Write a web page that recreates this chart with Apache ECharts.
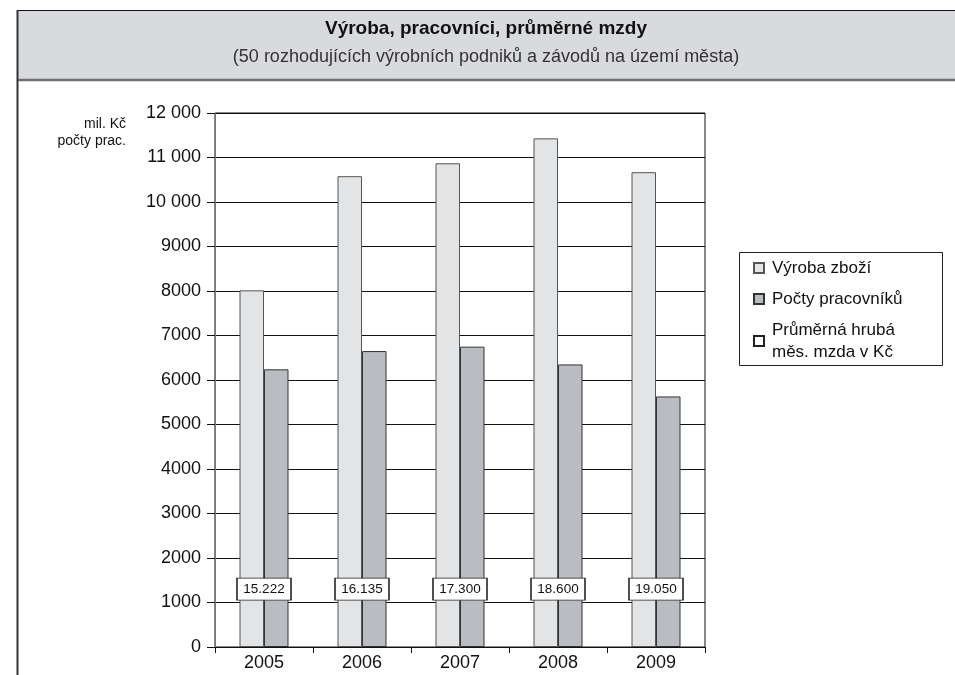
<!DOCTYPE html>
<html>
<head>
<meta charset="utf-8">
<script src="https://cdn.jsdelivr.net/npm/echarts@6/dist/echarts.min.js"></script>
<style>
html,body{margin:0;padding:0;background:#fff;}
#chart{width:955px;height:675px;}
</style>
</head>
<body>
<div id="chart"></div>
<script>
// ---- data ----
const categories = ['2005', '2006', '2007', '2008', '2009'];
const vyrobaZbozi = [8015, 10580, 10870, 11430, 10670];
const poctyPracovniku = [6240, 6650, 6750, 6350, 5630];
const prumernaMzda = [15222, 16135, 17300, 18600, 19050];
const seriesNames = ['Výroba zboží', 'Počty pracovníků', 'Průměrná hrubá\nměs. mzda v Kč'];
const yMin = 0, yMax = 12000, yStep = 1000;
const titleText = 'Výroba, pracovníci, průměrné mzdy';
const subtitleText = '(50 rozhodujících výrobních podniků a závodů na území města)';
const unitText = 'mil. Kč\npočty prac.';
// level (axis units) at which the wage boxes sit
const wageLevel = 1300;

const FONT = '"Liberation Sans", Arial, Helvetica, sans-serif';

function fmtSpace(v) {
  return v >= 10000 ? String(v).replace(/\B(?=(\d{3})+(?!\d))/g, ' ') : String(v);
}
function fmtDot(v) {
  return String(v).replace(/\B(?=(\d{3})+(?!\d))/g, '.');
}

const chart = echarts.init(document.getElementById('chart'), null, {renderer: 'canvas'});

const option = {
  backgroundColor: '#fff',
  animation: false,
  textStyle: {fontFamily: FONT},
  graphic: [
    {type: 'rect', shape: {x: 17, y: 10.5, width: 940, height: 69}, style: {fill: '#d9dadd', stroke: null}, z: 0},
    {type: 'line', shape: {x1: 17, y1: 10.5, x2: 955, y2: 10.5}, style: {stroke: '#111', lineWidth: 1}, z: 1},
    {type: 'line', shape: {x1: 17, y1: 80, x2: 955, y2: 80}, style: {stroke: '#6f6f6f', lineWidth: 2.5}, z: 1},
    {type: 'line', shape: {x1: 17.5, y1: 10, x2: 17.5, y2: 675}, style: {stroke: '#333', lineWidth: 2}, z: 1},
    {type: 'text', x: 486, y: 29, style: {text: titleText, fill: '#111', font: 'bold 19px ' + FONT, textAlign: 'center', textVerticalAlign: 'middle'}, z: 2},
    {type: 'text', x: 486, y: 57.5, style: {text: subtitleText, fill: '#333', font: '18px ' + FONT, textAlign: 'center', textVerticalAlign: 'middle'}, z: 2},
    {type: 'text', x: 126, y: 133, style: {text: unitText, fill: '#111', font: '14px ' + FONT, textAlign: 'right', textVerticalAlign: 'middle', lineHeight: 17}, z: 2},
    {type: 'rect', shape: {x: 739.5, y: 252.5, width: 203, height: 113}, style: {fill: null, stroke: '#222', lineWidth: 1}, z: 2}
  ],
  legend: {
    orient: 'vertical',
    left: 753,
    top: 257,
    padding: 0,
    itemWidth: 10,
    itemHeight: 10,
    itemGap: 9,
    textStyle: {fontFamily: FONT, fontSize: 17, color: '#111', lineHeight: 22, padding: [0, 0, 0, 3]},
    data: [
      {name: seriesNames[0], icon: 'rect'},
      {name: seriesNames[1], icon: 'rect'},
      {name: seriesNames[2], icon: 'rect'}
    ]
  },
  grid: {left: 215, top: 113, width: 490, height: 534, show: true, borderColor: '#111', borderWidth: 1, backgroundColor: 'transparent'},
  xAxis: {
    type: 'category',
    data: categories,
    boundaryGap: true,
    axisLine: {lineStyle: {color: '#111', width: 1}},
    axisTick: {show: true, length: 6, lineStyle: {color: '#111'}},
    axisLabel: {fontFamily: FONT, fontSize: 18, color: '#111', margin: 7},
    splitLine: {show: false}
  },
  yAxis: {
    type: 'value',
    min: yMin,
    max: yMax,
    interval: yStep,
    axisLine: {show: true, lineStyle: {color: '#777', width: 1}},
    axisTick: {show: true, length: 8, lineStyle: {color: '#111'}},
    axisLabel: {fontFamily: FONT, fontSize: 18, color: '#111', margin: 14, formatter: fmtSpace},
    splitLine: {show: true, lineStyle: {color: '#111', width: 1}}
  },
  series: [
    {
      name: seriesNames[0],
      type: 'bar',
      data: vyrobaZbozi,
      barGap: '0%',
      barCategoryGap: '50%',
      itemStyle: {color: '#e3e4e6', borderColor: '#555', borderWidth: 1},
      z: 3
    },
    {
      name: seriesNames[1],
      type: 'bar',
      data: poctyPracovniku,
      barGap: '0%',
      barCategoryGap: '50%',
      itemStyle: {color: '#b9bcc0', borderColor: '#333', borderWidth: 1},
      z: 3
    },
    {
      name: seriesNames[2],
      type: 'scatter',
      data: categories.map((c, i) => [i, wageLevel]),
      symbol: 'rect',
      symbolSize: [54, 22],
      itemStyle: {color: '#fff', borderColor: '#222', borderWidth: 1, opacity: 1},
      label: {
        show: true,
        position: 'inside',
        fontFamily: FONT,
        fontSize: 13.5,
        color: '#111',
        formatter: p => fmtDot(prumernaMzda[p.dataIndex])
      },
      emphasis: {disabled: true},
      z: 10
    }
  ]
};
chart.setOption(option);
</script>
</body>
</html>
